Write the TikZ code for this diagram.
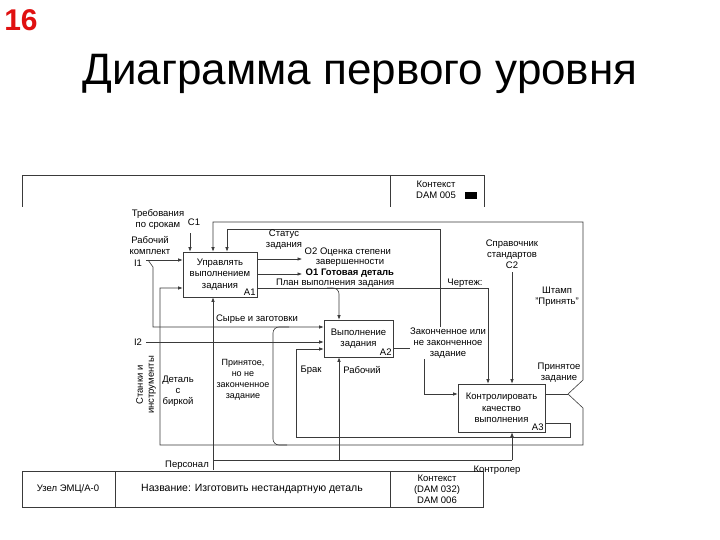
\documentclass[tikz,border=0pt]{standalone}
\usepackage{fontspec}
\setmainfont{Liberation Sans}
\usetikzlibrary{arrows.meta, positioning, calc}
\definecolor{wire}{HTML}{3A3A3A}
\definecolor{pagenum}{HTML}{E01010}

\begin{document}
\begin{tikzpicture}[x=1pt, y=-1pt, >={Latex[length=4.5pt, width=3.5pt]},
    func/.style={draw=wire, line width=0.6pt, fill=white, align=center, inner sep=1pt,
                 font=\fontsize{9.5}{11.5}\selectfont},
    lbl/.style={inner sep=0.5pt, align=center, font=\fontsize{9.5}{11}\selectfont},
    code/.style={inner sep=1.5pt, font=\fontsize{9.5}{11}\selectfont},
    flow/.style={draw=wire, line width=0.6pt}]
  \useasboundingbox (0,0) rectangle (720,540);

  % Page number and title.
  \node[text=pagenum, font=\fontsize{30}{32}\selectfont\bfseries] (num) at (21,20) {16};
  \node[font=\fontsize{44}{48}\selectfont] (title) at (360,74) {Диаграмма первого уровня};

  % Header and footer frames of the form.
  \draw[flow] (22,207) -- (22,175) -- (484,175) -- (484,207);
  \draw[flow] (390,175) -- (390,207);
  \node[lbl] (ctx) at (436,190) {Контекст\\DAM 005};
  \node[fill=black, minimum width=12, minimum height=7, inner sep=0pt] (mark) at (471,195.5) {};
  \draw[flow] (22,471) rectangle (483,507);
  \draw[flow] (115,471) -- (115,507);
  \draw[flow] (390,471) -- (390,507);
  \node[lbl] (node0) at (68,489) {Узел ЭМЦ/А-0};
  \node[lbl, font=\fontsize{10.5}{12}\selectfont] (name0) at (252,489) {Название: Изготовить нестандартную деталь};
  \node[lbl] (ctx0) at (437,489) {Контекст\\(DAM 032)\\DAM 006};

  % The three function blocks.
  \node[func, minimum width=74, minimum height=45] (a1) at (220,274.5) {Управлять\\выполнением\\задания};
  \node[func, minimum width=69, minimum height=37] (a2) at (358.5,338.5) {Выполнение\\задания};
  \node[func, minimum width=87, minimum height=48] (a3) at (501.5,408) {Контролировать\\качество\\выполнения};
  \node[code, anchor=south east] (a1n) at (a1.south east) {A1};
  \node[code, anchor=south east] (a2n) at (a2.south east) {A2};
  \node[code, anchor=south east] (a3n) at (a3.south east) {A3};

  % Points of the arrows.
  \coordinate (c1in) at (190,233);
  \coordinate (c2in) at (512,272);
  \coordinate (fbR) at (583,222);
  \coordinate (fbL) at (213,222);
  \coordinate (stR) at (440,229);
  \coordinate (stL) at (227,229);
  \coordinate (split) at (568,394);
  \coordinate (upR) at (583,380);
  \coordinate (dnR) at (583,408);
  \coordinate (botR) at (583,445);
  \coordinate (botL) at (160,445);
  \coordinate (det) at (160,288);
  \coordinate (i1) at (146,260);
  \coordinate (i1s) at (148,260);
  \coordinate (i1k) at (153,267);
  \coordinate (raw) at (153,327);
  \coordinate (i2) at (146,342);
  \coordinate (o2) at (302,259);
  \coordinate (o1) at (302,274);
  \coordinate (plan) at (488,288);
  \coordinate (plan2) at (339,288);
  \coordinate (ret) at (440,348);
  \coordinate (toA3) at (424,348);
  \coordinate (a3in) at (424,394);
  \coordinate (brOut) at (570,423);
  \coordinate (brR) at (570,437);
  \coordinate (brL) at (296,437);
  \coordinate (brIn) at (296,349);
  \coordinate (accB) at (287,445);
  \coordinate (accT) at (273,327);
  \coordinate (pers) at (213,470);
  \coordinate (mechL) at (213,460);
  \coordinate (mech2) at (339,460);
  \coordinate (mechR) at (512,460);

  % Controls.
  \draw[flow, ->] (c1in) -- (c1in |- a1.north);
  \draw[flow, ->] (c2in) -- (c2in |- a3.north);
  \draw[flow, ->] (ret -| a2.east) -- (ret) -- (stR) -- (stL) -- (stL |- a1.north);
  \draw[flow, ->] (plan -| a1.east) -- (plan) -- (plan |- a3.north);
  \draw[flow, ->, rounded corners=6] ($(plan2)+(-12,0)$) -| (plan2 |- a2.north);

  % Outputs of A3, back into A1 and A2.
  \draw[flow] (split -| a3.east) -- (split);
  \draw[flow, ->] (split) -- (upR) -- (fbR) -- (fbL) -- (fbL |- a1.north);
  \draw[flow, ->] (split) -- (dnR) -- (botR) -- (botL) -- (det) -- (det -| a1.west);
  \draw[flow, ->] (brOut -| a3.east) -- (brOut) -- (brR) -- (brL) -- (brIn) -- (brIn -| a2.west);
  \draw[flow, rounded corners=6] (accB) -| (accT) -- ($(accT)+(16,0)$);

  % Inputs and outputs.
  \draw[flow, ->] (i1) -- (i1 -| a1.west);
  \draw[flow, ->] (i1s) -- (i1k) -- (raw) -- (raw -| a2.west);
  \draw[flow, ->] (i2) -- (i2 -| a2.west);
  \draw[flow, ->] (o2 -| a1.east) -- (o2);
  \draw[flow, ->] (o1 -| a1.east) -- (o1);
  \draw[flow, ->] (toA3) -- (a3in) -- (a3in -| a3.west);

  % Mechanisms.
  \draw[flow, ->] (pers) -- (pers |- a1.south);
  \draw[flow] (mechL) -- (mechR);
  \draw[flow, ->] (mech2) -- (mech2 |- a2.south);
  \draw[flow, ->] (mechR) -- (mechR |- a3.south);

  % Arrow labels.
  \node[lbl] (l-c1) at (158,220) {Требования\\по срокам};
  \node[code] (n-c1) at (194,222) {C1};
  \node[lbl] (l-i1) at (150,246) {Рабочий\\комплект};
  \node[code] (n-i1) at (138,263) {I1};
  \node[lbl] (l-st) at (284,240) {Статус\\задания};
  \node[lbl, anchor=west] (l-o2) at (304,252) {O2 Оценка степени};
  \node[lbl] (l-o2b) at (350,263) {завершенности};
  \node[lbl, anchor=west, font=\fontsize{9.5}{11}\selectfont\bfseries] (l-o1) at (305,273) {O1 Готовая деталь};
  \node[lbl, anchor=east] (l-pl) at (395,283) {План выполнения задания};
  \node[lbl] (l-ch) at (465,283) {Чертеж:};
  \node[lbl] (l-c2) at (512,254) {Справочник\\стандартов\\C2};
  \node[lbl] (l-sh) at (557,297) {Штамп\\"Принять"};
  \node[lbl] (l-raw) at (257,319) {Сырье и заготовки};
  \node[code] (n-i2) at (138,342) {I2};
  \node[lbl, rotate=90] (l-i2) at (146,385) {Станки и\\инструменты};
  \node[lbl, fill=white] (l-fin) at (448,343) {Законченное или\\не законченное\\задание};
  \node[lbl] (l-acc) at (559,373) {Принятое\\задание};
  \node[lbl] (l-det) at (178,391) {Деталь\\с\\биркой};
  \node[lbl, font=\fontsize{9}{11}\selectfont] (l-part) at (243,380) {Принятое,\\но не\\законченное\\задание};
  \node[lbl] (l-br) at (311,370) {Брак};
  \node[lbl] (l-wk) at (362,370) {Рабочий};
  \node[lbl] (l-pers) at (187,465) {Персонал};
  \node[lbl] (l-ctl) at (497,470) {Контролер};
\end{tikzpicture}
\end{document}
